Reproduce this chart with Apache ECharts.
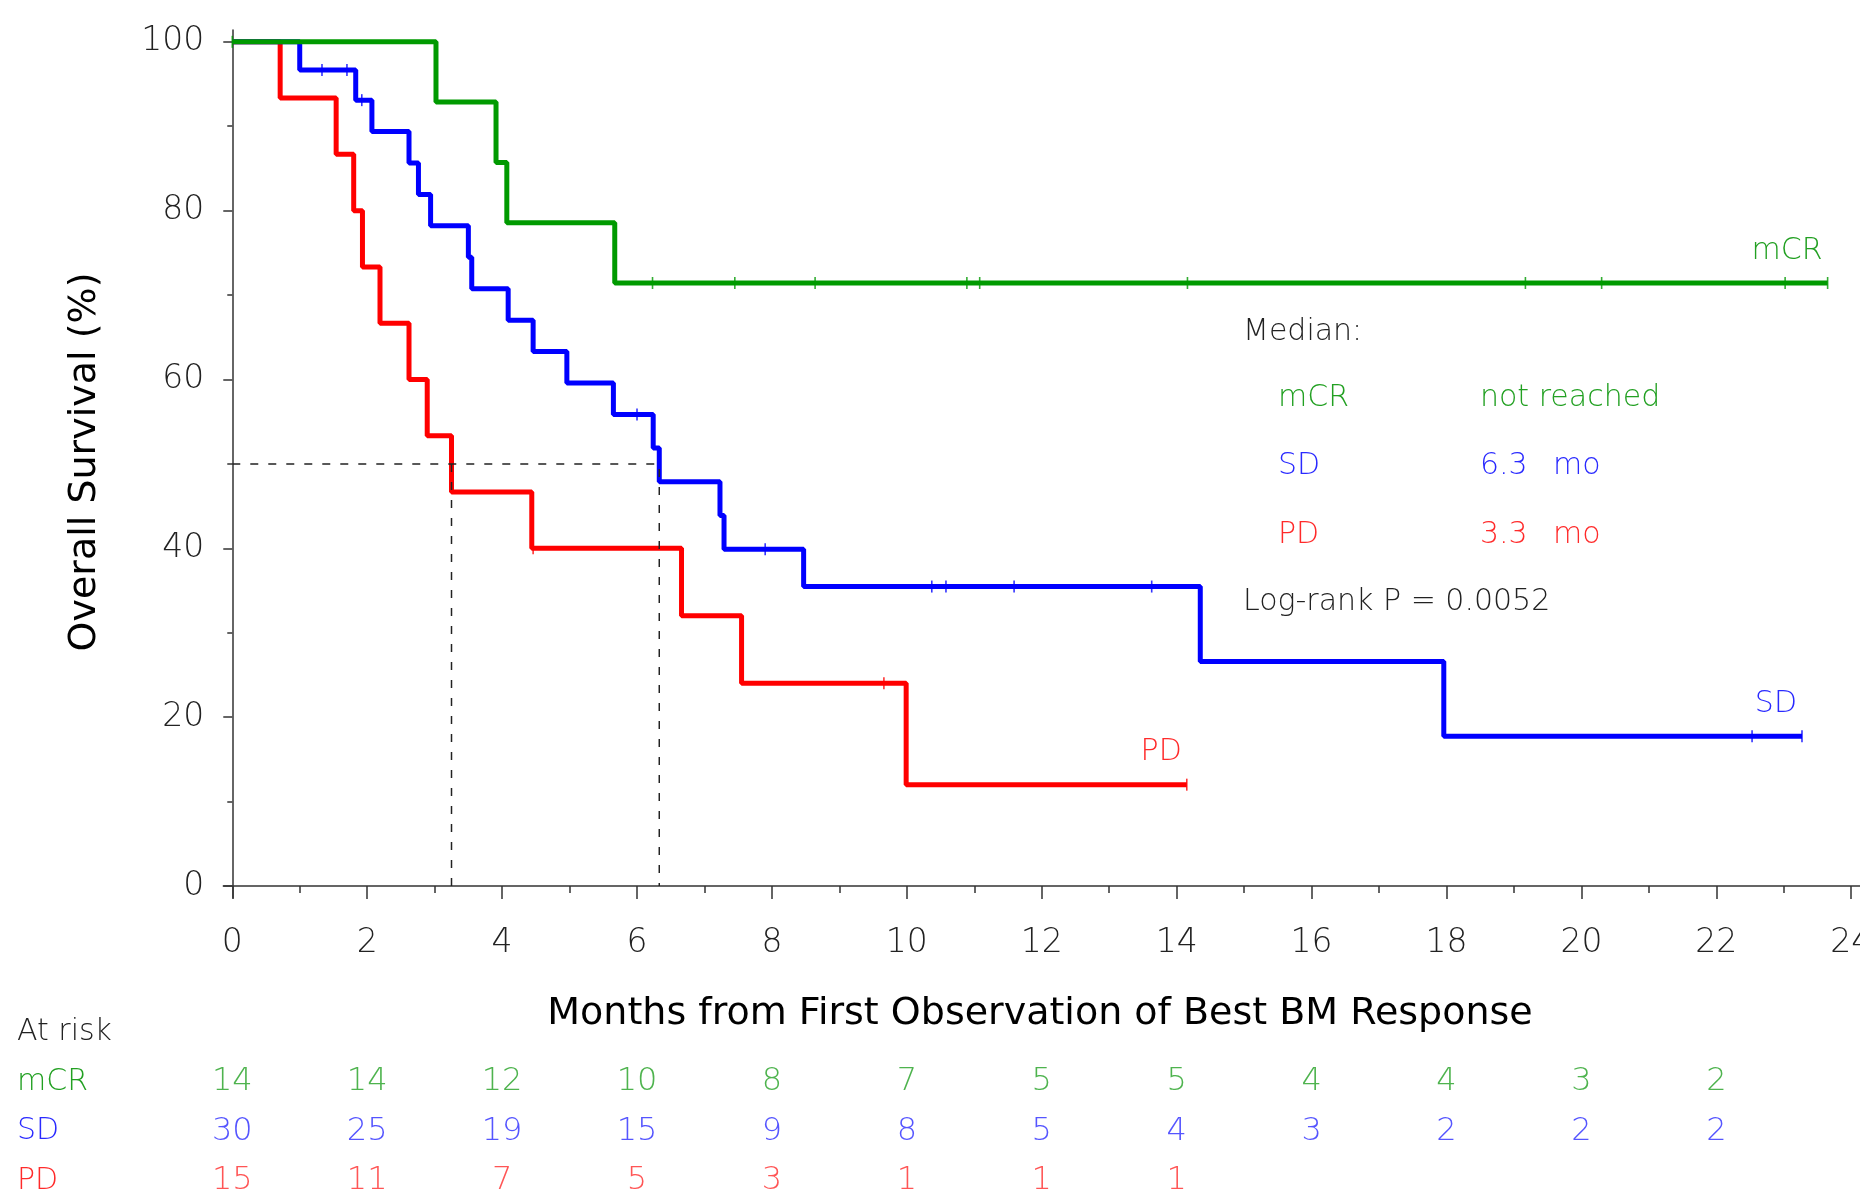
<!DOCTYPE html>
<html>
<head>
<meta charset="utf-8">
<script src="https://cdn.jsdelivr.net/npm/echarts@6.0.0/dist/echarts.min.js"></script>
<style>
  html, body { margin: 0; padding: 0; background: #fff; }
  #main { width: 1860px; height: 1198px; }
</style>
</head>
<body>
<div id="main"></div>
<script>
// Kaplan-Meier steps: [month, survival %]
const mcrSteps = [[0, 100], [3.02, 92.86], [3.91, 85.71], [4.07, 78.57], [5.67, 71.43], [23.65, 71.43]];
const sdSteps = [[0, 100], [1.0, 96.67], [1.83, 93.09], [2.07, 89.37], [2.62, 85.65], [2.76, 81.92],
  [2.94, 78.2], [3.5, 74.47], [3.55, 70.75], [4.09, 67.03], [4.46, 63.3], [4.96, 59.58], [5.65, 55.86],
  [6.24, 51.87], [6.33, 47.88], [7.23, 43.89], [7.29, 39.9], [8.47, 35.47], [14.35, 26.6], [17.96, 17.73],
  [23.27, 17.73]];
const pdSteps = [[0, 100], [0.71, 93.33], [1.54, 86.67], [1.8, 80], [1.93, 73.33], [2.19, 66.67],
  [2.62, 60], [2.89, 53.33], [3.25, 46.67], [4.44, 40], [6.66, 32], [7.55, 24], [9.99, 12], [14.15, 12]];

// censored observations
const mcrCensor = [[0, 100], [6.23, 71.43], [7.45, 71.43], [8.64, 71.43], [10.89, 71.43], [11.08, 71.43],
  [14.16, 71.43], [19.17, 71.43], [20.3, 71.43], [23.02, 71.43], [23.65, 71.43]];
const sdCensor = [[1.33, 96.67], [1.7, 96.67], [1.92, 93.09], [6.0, 55.86], [7.9, 39.9], [10.37, 35.47],
  [10.58, 35.47], [11.59, 35.47], [13.63, 35.47], [22.53, 17.73], [23.27, 17.73]];
const pdCensor = [[4.46, 40], [9.66, 24], [14.15, 12]];

// median survival (months)
const medianPD = 3.25;
const medianSD = 6.33;

// number at risk
const riskMonths = [0, 2, 4, 6, 8, 10, 12, 14, 16, 18, 20, 22];
const mcrRisk = [14, 14, 12, 10, 8, 7, 5, 5, 4, 4, 3, 2];
const sdRisk = [30, 25, 19, 15, 9, 8, 5, 4, 3, 2, 2, 2];
const pdRisk = [15, 11, 7, 5, 3, 1, 1, 1];
const groups = ['mCR', 'SD', 'PD'];

const xMajor = [0, 2, 4, 6, 8, 10, 12, 14, 16, 18, 20, 22, 24];
const xMinor = [1, 3, 5, 7, 9, 11, 13, 15, 17, 19, 21, 23];
const yMajor = [0, 20, 40, 60, 80, 100];
const yMinor = [10, 30, 50, 70, 90];

const GREEN = '#009a00', BLUE = '#0000ff', RED = '#ff0000';
const txtGreen = '#22a022', txtBlue = '#2a2aff', txtRed = '#ff2a2a';
const FONT = '"DejaVu Sans", sans-serif';
const AXIS = '#333';

var chart = echarts.init(document.getElementById('main'));

function curve(name, steps, color, label) {
  return {
    name: name, type: 'line', step: 'end', data: steps,
    xAxisIndex: 0, yAxisIndex: 0,
    symbol: 'none', lineStyle: { color: color, width: 5 },
    z: 3,
    markPoint: {
      symbol: 'circle', symbolSize: 0, silent: true,
      data: [{ coord: steps[steps.length - 1] }],
      label: {
        show: true, formatter: label, position: 'left', distance: 0, offset: [-5, -32],
        color: color === GREEN ? txtGreen : color === BLUE ? txtBlue : txtRed,
        fontFamily: FONT, fontWeight: 200, fontSize: 30
      }
    }
  };
}
function censor(name, pts, color) {
  return {
    name: name + ' censored', type: 'scatter', data: pts, xAxisIndex: 0, yAxisIndex: 0,
    symbol: 'rect', symbolSize: [1.6, 12], itemStyle: { color: color }, z: 4, silent: true
  };
}
function risk(name, vals, color) {
  return {
    name: name + ' at risk', type: 'scatter', xAxisIndex: 2, yAxisIndex: 2,
    data: vals.map((v, i) => [riskMonths[i], name, v]),
    symbolSize: 0, silent: true,
    label: {
      show: true, position: 'inside', formatter: p => p.value[2],
      color: color, fontFamily: FONT, fontWeight: 200, fontSize: 32
    }
  };
}

const xMin = -0.133, xMax = 24.13;

chart.setOption({
  animation: false,
  backgroundColor: '#fff',
  grid: [
    { left: 223.3, right: 0, top: 30, bottom: 300.3, outerBoundsMode: 'none', containLabel: false },
    { left: 223.3, right: 0, top: 1057, height: 148.5, outerBoundsMode: 'none', containLabel: false }
  ],
  xAxis: [
    {
      type: 'value', gridIndex: 0, min: xMin, max: xMax, position: 'bottom',
      axisLine: { show: true, lineStyle: { color: AXIS, width: 1.5 } },
      axisTick: { show: true, customValues: xMajor, length: 13, lineStyle: { color: AXIS, width: 1.5 } },
      axisLabel: { customValues: xMajor, margin: 29, color: '#222', fontFamily: FONT, fontWeight: 200, fontSize: 33 },
      splitLine: { show: false }
    },
    {
      type: 'value', gridIndex: 0, min: xMin, max: xMax, position: 'bottom',
      axisLine: { show: false },
      axisTick: { show: true, customValues: xMinor, length: 7, lineStyle: { color: AXIS, width: 1.5 } },
      axisLabel: { show: false }, splitLine: { show: false }
    },
    { type: 'value', gridIndex: 1, min: xMin, max: xMax, show: false }
  ],
  yAxis: [
    {
      type: 'value', gridIndex: 0, min: -1.39, max: 101.4, position: 'left',
      axisLine: { show: true, lineStyle: { color: AXIS, width: 1.5 } },
      axisTick: { show: true, customValues: yMajor, length: 9, lineStyle: { color: AXIS, width: 1.5 } },
      axisLabel: { customValues: yMajor, margin: 19, color: '#222', fontFamily: FONT, fontWeight: 200, fontSize: 33 },
      splitLine: { show: false }
    },
    {
      type: 'value', gridIndex: 0, min: -1.39, max: 101.4, position: 'left',
      axisLine: { show: false },
      axisTick: { show: true, customValues: yMinor, length: 5, lineStyle: { color: AXIS, width: 1.5 } },
      axisLabel: { show: false }, splitLine: { show: false }
    },
    {
      type: 'category', gridIndex: 1, data: groups, inverse: true,
      axisLine: { show: false }, axisTick: { show: false }, splitLine: { show: false },
      axisLabel: {
        margin: 206.3, align: 'left', fontFamily: FONT, fontWeight: 200, fontSize: 30,
        color: (v, i) => [txtGreen, txtBlue, txtRed][i]
      }
    }
  ],
  series: [
    curve('PD', pdSteps, RED, 'PD'),
    curve('SD', sdSteps, BLUE, 'SD'),
    curve('mCR', mcrSteps, GREEN, 'mCR'),
    censor('PD', pdCensor, RED),
    censor('SD', sdCensor, BLUE),
    censor('mCR', mcrCensor, GREEN),
    {
      name: 'median', type: 'line', xAxisIndex: 0, yAxisIndex: 0, symbol: 'none', z: 5,
      connectNulls: false,
      data: [[0, 50], [medianSD, 50], [medianSD, 0], null, [medianPD, 50], [medianPD, 0]],
      lineStyle: { color: '#222', width: 1.5, type: [8, 10] }
    },
    risk('mCR', mcrRisk, txtGreen),
    risk('SD', sdRisk, txtBlue),
    risk('PD', pdRisk, txtRed)
  ],
  graphic: [
    { type: 'text', x: 85, y: 462, rotation: Math.PI / 2,
      style: { text: 'Overall Survival (%)', fill: '#000', font: '38px ' + FONT, textAlign: 'center', textVerticalAlign: 'middle' } },
    { type: 'text', x: 1040, y: 1014,
      style: { text: 'Months from First Observation of Best BM Response', fill: '#000', font: '38px ' + FONT, textAlign: 'center', textVerticalAlign: 'middle' } },
    { type: 'text', x: 17, y: 1032,
      style: { text: 'At risk', fill: '#222', font: '200 30px ' + FONT, textAlign: 'left', textVerticalAlign: 'middle' } },
    { type: 'text', x: 1243, y: 332,
      style: { text: 'Median:', fill: '#222', font: '200 30px ' + FONT, textAlign: 'left', textVerticalAlign: 'middle' } },
    { type: 'text', x: 1278, y: 398,
      style: { text: 'mCR', fill: txtGreen, font: '200 30px ' + FONT, textAlign: 'left', textVerticalAlign: 'middle' } },
    { type: 'text', x: 1480, y: 398,
      style: { text: 'not reached', fill: txtGreen, font: '200 30px ' + FONT, textAlign: 'left', textVerticalAlign: 'middle' } },
    { type: 'text', x: 1278, y: 466,
      style: { text: 'SD', fill: txtBlue, font: '200 30px ' + FONT, textAlign: 'left', textVerticalAlign: 'middle' } },
    { type: 'text', x: 1480, y: 466,
      style: { text: '6.3', fill: txtBlue, font: '200 30px ' + FONT, textAlign: 'left', textVerticalAlign: 'middle' } },
    { type: 'text', x: 1553, y: 466,
      style: { text: 'mo', fill: txtBlue, font: '200 30px ' + FONT, textAlign: 'left', textVerticalAlign: 'middle' } },
    { type: 'text', x: 1278, y: 535,
      style: { text: 'PD', fill: txtRed, font: '200 30px ' + FONT, textAlign: 'left', textVerticalAlign: 'middle' } },
    { type: 'text', x: 1480, y: 535,
      style: { text: '3.3', fill: txtRed, font: '200 30px ' + FONT, textAlign: 'left', textVerticalAlign: 'middle' } },
    { type: 'text', x: 1553, y: 535,
      style: { text: 'mo', fill: txtRed, font: '200 30px ' + FONT, textAlign: 'left', textVerticalAlign: 'middle' } },
    { type: 'text', x: 1243, y: 602,
      style: { text: 'Log-rank P = 0.0052', fill: '#222', font: '200 30px ' + FONT, textAlign: 'left', textVerticalAlign: 'middle' } }
  ]
});
</script>
</body>
</html>
